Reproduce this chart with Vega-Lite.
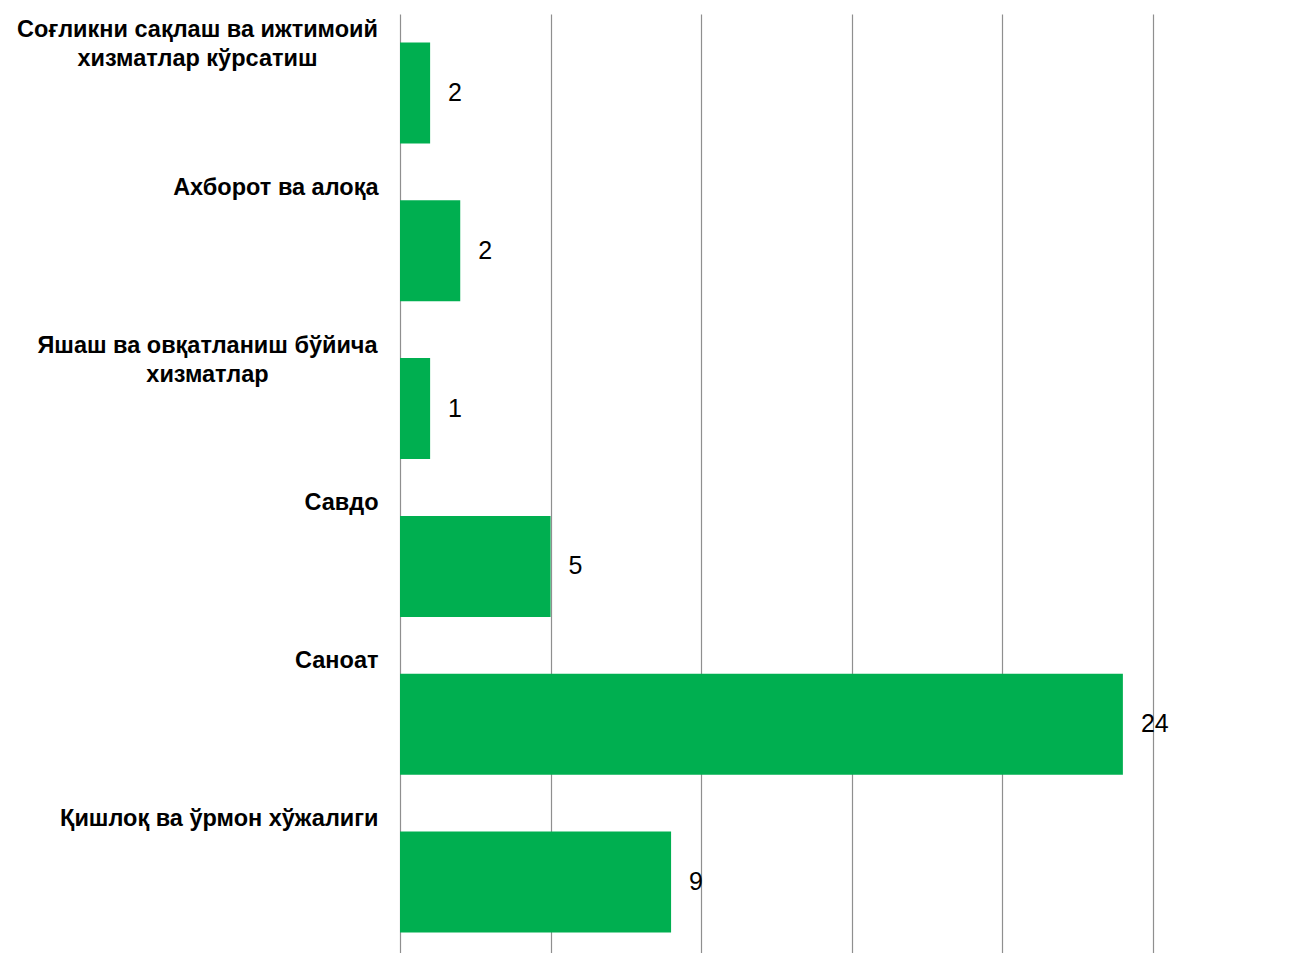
{
  "$schema": "https://vega.github.io/schema/vega-lite/v6.json",
  "autosize": "none",
  "width": 753,
  "height": 947,
  "padding": {"left": 400, "top": 14, "right": 144, "bottom": 0},
  "background": "white",
  "config": {"view": {"stroke": null}},
  "data": {
    "values": [
      {"sector": "Соғликни сақлаш ва ижтимоий хизматлар кўрсатиш", "value": 1, "label": "2"},
      {"sector": "Ахборот ва алоқа", "value": 2, "label": "2"},
      {"sector": "Яшаш ва овқатланиш бўйича хизматлар", "value": 1, "label": "1"},
      {"sector": "Савдо", "value": 5, "label": "5"},
      {"sector": "Саноат", "value": 24, "label": "24"},
      {"sector": "Қишлоқ ва ўрмон хўжалиги", "value": 9, "label": "9"}
    ]
  },
  "encoding": {
    "y": {
      "field": "sector",
      "type": "nominal",
      "sort": null,
      "scale": {"paddingInner": 0.36, "paddingOuter": 0.18},
      "axis": {
        "title": null,
        "domain": false,
        "ticks": false,
        "labelFont": "Liberation Sans",
        "labelFontWeight": "bold",
        "labelFontSize": 23.5,
        "labelColor": "#000000",
        "labelLimit": 600,
        "labelLineHeight": 29,
        "labelBaseline": "top",
        "labelOffset": -75,
        "labelAlign": {"condition": {"test": "indexof(datum.value, 'хизматлар') >= 0", "value": "center"}, "value": "right"},
        "labelPadding": {"condition": [{"test": "indexof(datum.value, 'Соғликни') >= 0", "value": 203}, {"test": "indexof(datum.value, 'Яшаш') >= 0", "value": 193}], "value": 22},
        "labelExpr": "datum.label == 'Соғликни сақлаш ва ижтимоий хизматлар кўрсатиш' ? ['Соғликни сақлаш ва ижтимоий', 'хизматлар кўрсатиш'] : datum.label == 'Яшаш ва овқатланиш бўйича хизматлар' ? ['Яшаш ва овқатланиш бўйича', 'хизматлар'] : datum.label"
      }
    },
    "x": {
      "field": "value",
      "type": "quantitative",
      "scale": {"domain": [0, 25], "nice": false},
      "axis": {
        "title": null,
        "labels": false,
        "ticks": false,
        "domain": false,
        "grid": true,
        "values": [0, 5, 10, 15, 20, 25],
        "gridColor": "#8f8f8f",
        "gridWidth": 1.2
      }
    }
  },
  "layer": [
    {
      "mark": {"type": "bar", "color": "#00AF50"}
    },
    {
      "mark": {"type": "text", "align": "left", "baseline": "middle", "dx": 18, "font": "Liberation Sans", "fontSize": 25, "color": "#000000"},
      "encoding": {
        "text": {"field": "label"}
      }
    }
  ]
}
